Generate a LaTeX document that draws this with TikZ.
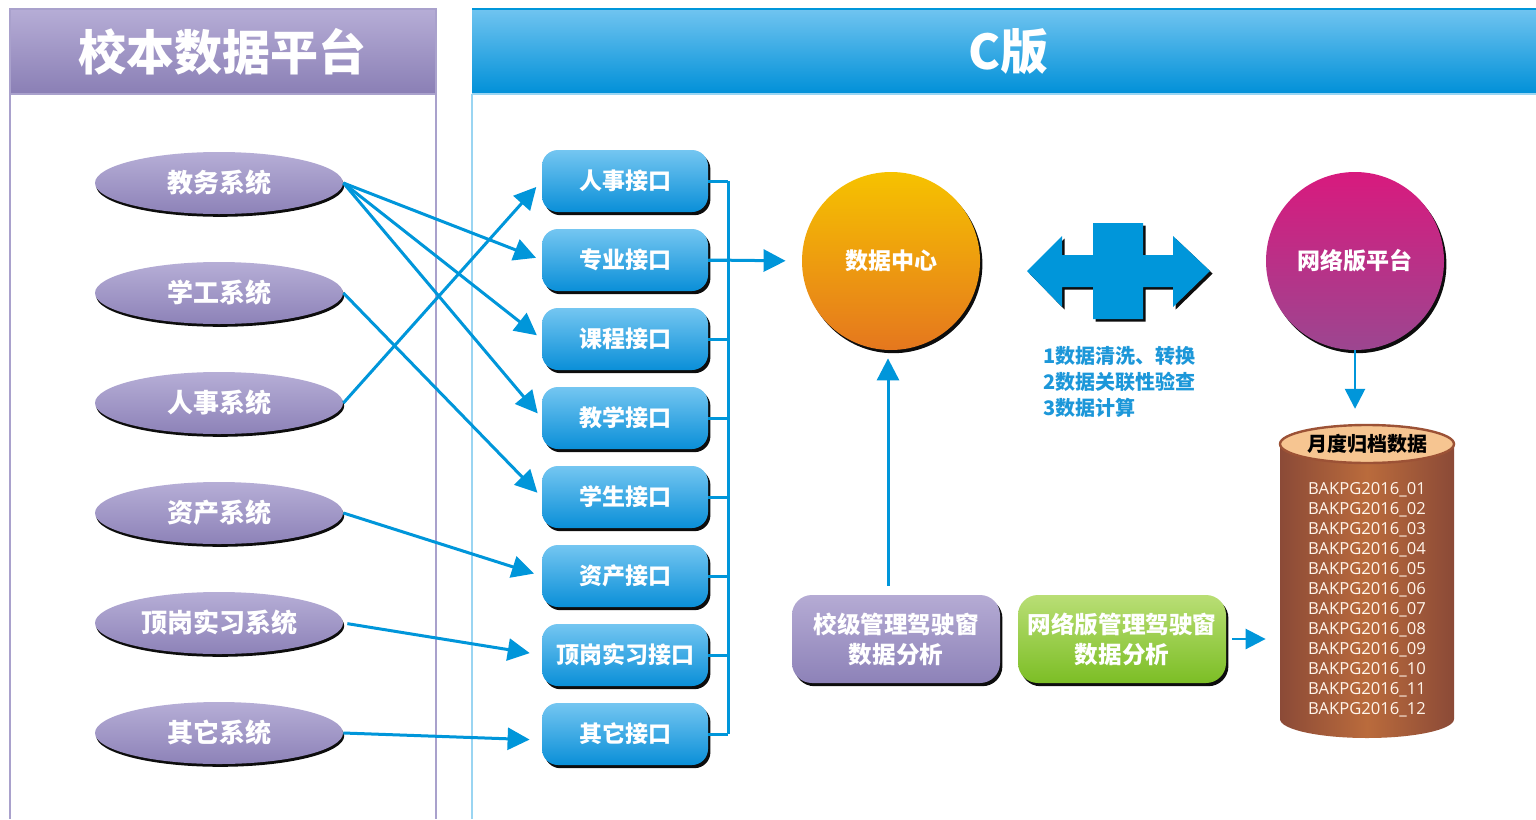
\documentclass[tikz,border=0pt]{standalone}
\usepackage{fontspec}
\setmainfont{Noto Sans CJK SC}
\newfontfamily\listfont{Open Sans}
\usetikzlibrary{shapes.geometric,shadows,arrows.meta}
\definecolor{ellT}{HTML}{B6AED6}
\definecolor{ellB}{HTML}{8D82B8}
\definecolor{hdrLT}{HTML}{B6ADD6}
\definecolor{hdrLB}{HTML}{8A7FB5}
\definecolor{hdrRT}{HTML}{70C4F0}
\definecolor{hdrRB}{HTML}{0090D8}
\definecolor{ibT}{HTML}{74C6F1}
\definecolor{ibB}{HTML}{0A8FD8}
\definecolor{ablue}{HTML}{0096DA}
\definecolor{dcT}{HTML}{F6C200}
\definecolor{dcB}{HTML}{E5771E}
\definecolor{npT}{HTML}{D81A7E}
\definecolor{npB}{HTML}{9C4690}
\definecolor{bT}{HTML}{B5ABD4}
\definecolor{bB}{HTML}{8D82B8}
\definecolor{gT}{HTML}{B9DE75}
\definecolor{gB}{HTML}{7CBE25}
\definecolor{cylEdge}{HTML}{8B4A37}
\definecolor{cylMid}{HTML}{BA6B3C}
\definecolor{cylTop}{HTML}{F6C591}
\definecolor{cylRim}{HTML}{9C5236}
\definecolor{tblue}{HTML}{1C97D9}
\definecolor{lline}{HTML}{A9A1CC}
\definecolor{rline}{HTML}{9AD5F2}
\tikzset{
  conn/.style={draw=ablue, line width=1.5pt, -{Triangle[length=11pt,width=11pt]}},
  busline/.style={draw=ablue, line width=1.5pt},
  shd/.style={drop shadow={shadow xshift=1.2pt, shadow yshift=-1.6pt, fill=black, opacity=0.95}},
  eshd/.style={drop shadow={shadow xshift=0.6pt, shadow yshift=-1.4pt, fill=black, opacity=0.95}},
  ell/.style={ellipse, eshd, inner sep=0pt, minimum width=124pt, minimum height=31pt,
    top color=ellT, bottom color=ellB, text=white, font=\bfseries\fontsize{13}{15}\selectfont},
  ibox/.style={rounded corners=8pt, shd, inner sep=0pt, minimum width=83pt, minimum height=31pt,
    top color=ibT, bottom color=ibB, text=white, font=\bfseries\fontsize{11.5}{13}\selectfont},
  circnode/.style={circle, shd, inner sep=0pt, minimum size=89pt, text=white,
    font=\bfseries\fontsize{11.5}{13}\selectfont},
  abox/.style={rounded corners=10pt, shd, inner sep=0pt, minimum width=104pt, minimum height=44pt,
    text=white, align=center, font=\bfseries\fontsize{11.8}{15}\selectfont},
  titletext/.style={text=white, font=\bfseries\fontsize{24}{28}\selectfont},
}
\begin{document}
\begin{tikzpicture}[x=0.5pt,y=-0.5pt]
\useasboundingbox (0,0) rectangle (1536,819);
\fill[white] (0,0) rectangle (1536,819);
% panels
\draw[lline, line width=0.6pt] (10,94) -- (10,819);
\draw[lline, line width=0.6pt] (436,94) -- (436,819);
\draw[rline, line width=0.8pt] (472,94) -- (472,819);
\shade[top color=hdrLT, bottom color=hdrLB, draw=lline, line width=0.6pt] (10,9) rectangle (436,94);
\shade[top color=hdrRT, bottom color=hdrRB] (472,9) rectangle (1536,94);
\draw[ablue, line width=0.6pt] (472,9) -- (1536,9);
\draw[rline, line width=0.8pt] (472,94) -- (1536,94);
\node[titletext] (t1) at (222,52) {校本数据平台};
\node[titletext] (t2) at (1008,52) {C版};
% source systems
\node[ell] (e1) at (219,183) {教务系统};
\node[ell] (e2) at (219,293) {学工系统};
\node[ell] (e3) at (219,403) {人事系统};
\node[ell] (e4) at (219,513) {资产系统};
\node[ell] (e5) at (219,623) {顶岗实习系统};
\node[ell] (e6) at (219,733) {其它系统};
% interfaces
\node[ibox] (i1) at (625,181) {人事接口};
\node[ibox] (i2) at (625,260) {专业接口};
\node[ibox] (i3) at (625,339) {课程接口};
\node[ibox] (i4) at (625,418) {教学接口};
\node[ibox] (i5) at (625,497) {学生接口};
\node[ibox] (i6) at (625,576) {资产接口};
\node[ibox] (i7) at (625,655) {顶岗实习接口};
\node[ibox] (i8) at (625,734) {其它接口};
% connectors systems -> interfaces
\draw[conn, shorten >=3pt] (e1.east) -- (i2.west);
\draw[conn, shorten >=3pt] (e1.east) -- (i3.west);
\draw[conn, shorten >=3pt] (e1.east) -- (i4.west);
\draw[conn, shorten >=3pt] (e2.east) -- (i5.west);
\draw[conn, shorten >=4pt] (e3.east) -- (i1.west);
\draw[conn, shorten >=4pt] (e4.east) -- (i6.west);
\draw[conn, shorten >=6pt, shorten <=2pt] (e5.east) -- (i7.west);
\draw[conn, shorten >=6pt] (e6.east) -- ([yshift=-3pt]i8.west);
% bus
\coordinate (bt) at (728,181);
\coordinate (bb) at (728,734);
\draw[busline] (bt) -- (bb);
\foreach \k in {1,...,8} { \draw[busline] (i\k.east) -- (i\k.east -| bt); }
% centres
\node[circnode, top color=dcT, bottom color=dcB] (dc) at (891,261) {数据中心};
\node[circnode, top color=npT, bottom color=npB] (np) at (1355,261) {网络版平台};
\draw[conn, shorten >=8pt] (i2.east) -- (dc.west);
% double arrow shape
\fill[ablue, drop shadow={shadow xshift=1.3pt, shadow yshift=-1.3pt, fill=black, opacity=0.95}]
  (1027,271) -- (1062,236) -- (1062,255) -- (1093,255) -- (1093,223) -- (1143,223) -- (1143,255)
  -- (1173,255) -- (1173,236) -- (1210,271) -- (1173,307) -- (1173,287) -- (1143,287)
  -- (1143,319) -- (1093,319) -- (1093,287) -- (1062,287) -- (1062,307) -- cycle;
\node[anchor=west, align=left, text=tblue, font=\bfseries\fontsize{10}{13}\selectfont] (steps) at (1036,382)
  {1数据清洗、转换\\2数据关联性验查\\3数据计算};
% bottom boxes
\node[abox, top color=bT, bottom color=bB] (b1) at (896,639) {校级管理驾驶窗\\数据分析};
\node[abox, top color=gT, bottom color=gB] (b2) at (1122,639) {网络版管理驾驶窗\\数据分析};
\draw[conn, shorten <=4.5pt, shorten >=4pt] (b1.north -| 888,0) -- (dc.south -| 888,0);
% cylinder
\node[inner sep=0pt, minimum width=87pt, minimum height=156.5pt] (cyl) at (1367,581) {};
\shade[left color=cylEdge, right color=cylEdge, middle color=cylMid]
  (1280,444) -- (1280,719) arc[start angle=180, end angle=360, x radius=43.5pt, y radius=9.5pt]
  -- (1454,444) -- cycle;
\node[ellipse, inner sep=0pt, minimum width=87pt, minimum height=19pt, fill=cylTop, draw=cylRim,
  line width=1.2pt, font=\bfseries\fontsize{10}{12}\selectfont] (cyltop) at (1367,444) {月度归档数据};
\node[align=left, text=white!92!orange, font=\listfont\fontsize{8.3}{10}\selectfont] (lst) at (1367,600)
  {BAKPG2016\_01\\BAKPG2016\_02\\BAKPG2016\_03\\BAKPG2016\_04\\BAKPG2016\_05\\BAKPG2016\_06\\BAKPG2016\_07\\BAKPG2016\_08\\BAKPG2016\_09\\BAKPG2016\_10\\BAKPG2016\_11\\BAKPG2016\_12};
\draw[conn, line width=1.3pt, -{Triangle[length=10pt,width=10pt]}, shorten >=7.5pt] (np.south) -- (np.south |- cyltop.north);
\draw[conn, line width=1.3pt, -{Triangle[length=10pt,width=10pt]}, shorten <=3pt, shorten >=7pt] (b2.east) -- (b2.east -| cyl.west);
\end{tikzpicture}
\end{document}
